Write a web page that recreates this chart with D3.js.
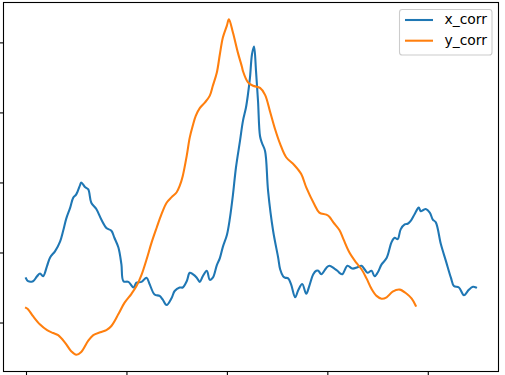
<!DOCTYPE html>
<html>
<head>
<meta charset="utf-8">
<script src="https://cdn.jsdelivr.net/npm/d3@7"></script>
<style>
    body { margin: 0; background: #fff; }
    #chart { width: 505px; height: 375px; }
    .legend text { font-family: "DejaVu Sans", sans-serif; font-size: 13.9px; fill: #000; }
</style>
</head>
<body>
<div id="chart"></div>
<script>
// lag index / correlation value
var xLag = [0, 2, 7, 11, 14, 17, 21, 24, 29, 34, 37, 40, 44, 47, 50, 54, 55, 59, 62, 65, 70, 75, 80, 85, 88, 92, 95, 97,
    102, 107, 110, 115, 120, 123, 128, 133, 136, 140, 145, 148, 153, 156, 160, 163, 166, 170, 173, 176, 180, 183, 186,
    190, 193, 196, 200, 203, 206, 209, 213, 216, 219, 221, 223, 225, 227, 229, 231, 233, 235, 238, 241, 246, 251, 253,
    256, 258, 261, 264, 268, 271, 275, 279, 282, 286, 289, 291, 294, 299, 302, 307, 310, 312, 315, 320, 325, 330, 334,
    337, 340, 344, 347, 350, 354, 359, 364, 367, 370, 373, 377, 380, 383, 387, 391, 393, 396, 398, 402, 405, 408, 413,
    418, 423, 426, 431, 436, 441, 445, 448];
var xCorr = [0.063, 0.059, 0.059, 0.066, 0.070, 0.066, 0.081, 0.093, 0.102, 0.116, 0.131, 0.148, 0.164, 0.178, 0.183,
    0.197, 0.200, 0.193, 0.190, 0.171, 0.162, 0.147, 0.135, 0.131, 0.121, 0.107, 0.083, 0.059,
    0.058, 0.050, 0.057, 0.058, 0.064, 0.055, 0.040, 0.038, 0.033, 0.025, 0.035, 0.045, 0.050, 0.050, 0.059, 0.071,
    0.069, 0.064, 0.058, 0.066, 0.074, 0.061, 0.064,
    0.082, 0.092, 0.108, 0.125, 0.149, 0.182, 0.221, 0.259, 0.288, 0.307, 0.326, 0.350, 0.383, 0.394, 0.359, 0.316,
    0.266, 0.256, 0.245, 0.188, 0.131, 0.093, 0.076,
    0.066, 0.064, 0.063, 0.054, 0.036, 0.046, 0.055, 0.041, 0.052, 0.069, 0.074, 0.074, 0.069, 0.078, 0.081, 0.077,
    0.074, 0.071, 0.069, 0.081, 0.077, 0.079, 0.081,
    0.076, 0.071, 0.074, 0.066, 0.071, 0.083, 0.092, 0.115, 0.121, 0.119, 0.133, 0.140, 0.141, 0.145, 0.155, 0.164,
    0.159, 0.161, 0.162, 0.157, 0.147, 0.143, 0.112,
    0.088, 0.064, 0.052, 0.050, 0.039, 0.047, 0.051, 0.050];

var yLag = [0, 2, 7, 14, 21, 27, 32, 39, 45, 50, 55, 62, 67, 74, 80, 85, 92, 98, 105, 110, 115, 120, 125, 130, 135,
    140, 145, 150, 153, 156, 160, 163, 166, 169, 173, 178, 183, 186, 190, 193, 196, 200, 202, 206, 211, 215, 216, 221,
    226, 233, 238, 243, 248, 253, 259, 267, 274, 279, 287, 292, 299, 302, 306, 312, 316, 322, 329, 334, 339, 344, 349,
    354, 359, 365, 372, 379, 384, 388];
var yCorr = [0.021, 0.019, 0.009, -0.003, -0.011, -0.015, -0.018, -0.029, -0.041, -0.046, -0.042, -0.026, -0.018,
    -0.014, -0.011, -0.005, 0.012, 0.028, 0.041, 0.052, 0.068, 0.090, 0.114, 0.135, 0.155,
    0.171, 0.179, 0.186, 0.195, 0.209, 0.238, 0.264, 0.281, 0.295, 0.306, 0.314, 0.324, 0.338, 0.357, 0.383, 0.407,
    0.424, 0.433, 0.414, 0.385, 0.365, 0.359, 0.343,
    0.338, 0.335, 0.325, 0.301, 0.276, 0.255, 0.236, 0.225, 0.212, 0.193, 0.169, 0.157, 0.154, 0.151, 0.143, 0.132,
    0.119, 0.100, 0.085, 0.076, 0.063, 0.048, 0.038,
    0.034, 0.036, 0.044, 0.047, 0.041, 0.034, 0.024];

var seriesNames = ["x_corr", "y_corr"];
var seriesColors = ["#1f77b4", "#ff7f0e"];

function makeChart() {
    let width = 505;
    let height = 375;
    // axes box; tick labels are cropped off in the reference
    let left = 3.5, top = 2.5, right = 498.5, bottom = 371.5;

    var series = [
        xLag.map(function (d, i) { return { lag: d, corr: xCorr[i] }; }),
        yLag.map(function (d, i) { return { lag: d, corr: yCorr[i] }; })
    ];
    var all = series[0].concat(series[1]);

    // matplotlib style 5% margins
    var xExt = d3.extent(all, function (d) { return d.lag; });
    var yExt = d3.extent(all, function (d) { return d.corr; });
    var xPad = (xExt[1] - xExt[0]) * 0.05;
    var yPad = (yExt[1] - yExt[0]) * 0.05;

    var xScale = d3.scaleLinear()
        .domain([xExt[0] - xPad, xExt[1] + xPad])
        .range([left, right]);

    var yScale = d3.scaleLinear()
        .domain([yExt[0] - yPad, yExt[1] + yPad])
        .range([bottom, top]);

    var svg = d3.select("#chart")
        .append("svg")
        .attr("width", width)
        .attr("height", height);

    var line = d3.line()
        .x(function (d) { return xScale(d.lag); })
        .y(function (d) { return yScale(d.corr); })
        .curve(d3.curveCatmullRom.alpha(0.5));

    svg.selectAll("path.series")
        .data(series)
        .enter()
        .append("path")
        .attr("class", "series")
        .attr("d", line)
        .attr("fill", "none")
        .attr("stroke", function (d, i) { return seriesColors[i]; })
        .attr("stroke-width", 2.08)
        .attr("stroke-linejoin", "round")
        .attr("stroke-linecap", "square");

    // axes, ticks outward, labels fall outside the picture
    let xAxis = d3.axisBottom(xScale)
        .tickValues([0, 100, 200, 300, 400])
        .tickSizeInner(4.9)
        .tickSizeOuter(0)
        .tickFormat("");
    svg.append("g")
        .attr("class", "axis")
        .attr("transform", "translate(0," + bottom + ")")
        .call(xAxis);

    let yAxis = d3.axisLeft(yScale)
        .tickValues([0, 0.1, 0.2, 0.3, 0.4])
        .tickSizeInner(4.9)
        .tickSizeOuter(0)
        .tickFormat("");
    svg.append("g")
        .attr("class", "axis")
        .attr("transform", "translate(" + left + ",0)")
        .call(yAxis);

    svg.selectAll(".axis .domain").remove();
    svg.selectAll(".axis line").attr("stroke", "#000").attr("stroke-width", 1.1);

    svg.append("rect")
        .attr("x", left)
        .attr("y", top)
        .attr("width", right - left)
        .attr("height", bottom - top)
        .attr("fill", "none")
        .attr("stroke", "#000")
        .attr("stroke-width", 1.1);

    // legend
    var legend = svg.append("g").attr("class", "legend");
    legend.append("rect")
        .attr("x", 399.5)
        .attr("y", 9.5)
        .attr("width", 92.5)
        .attr("height", 45.5)
        .attr("rx", 2.8)
        .attr("fill", "#fff")
        .attr("fill-opacity", 0.8)
        .attr("stroke", "#cccccc")
        .attr("stroke-width", 1.1);

    var items = legend.selectAll("g.item")
        .data(seriesNames)
        .enter()
        .append("g")
        .attr("class", "item")
        .attr("transform", function (d, i) { return "translate(0," + (20 + i * 20.7) + ")"; });

    items.append("line")
        .attr("x1", 405)
        .attr("x2", 433)
        .attr("y1", 0)
        .attr("y2", 0)
        .attr("stroke", function (d, i) { return seriesColors[i]; })
        .attr("stroke-width", 2.08);

    items.append("text")
        .attr("x", 444.5)
        .attr("y", 4)
        .text(function (d) { return d; });
}

makeChart();
</script>
</body>
</html>
